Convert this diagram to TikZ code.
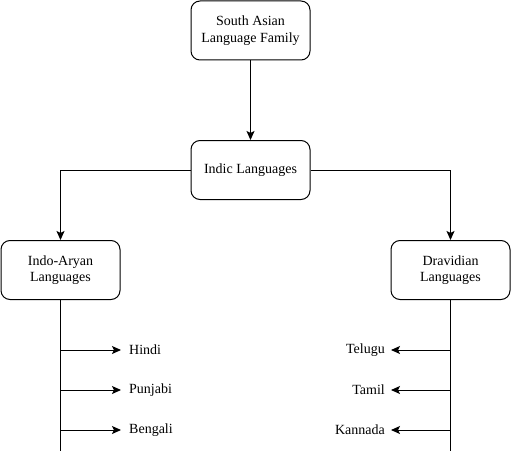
\documentclass[tikz,border=0pt]{standalone}
\usepackage{fontspec}
\setmainfont{Liberation Serif}
\usetikzlibrary{arrows.meta}
\begin{document}
\begin{tikzpicture}[x=1pt,y=-1pt,
  box/.style={draw, line width=1pt, rounded corners=9pt, minimum width=119pt, minimum height=59pt, align=center, inner sep=0pt, font=\fontsize{14}{16.5}\selectfont},
  leaf/.style={inner sep=0pt, font=\fontsize{14}{16.5}\selectfont},
  conn/.style={line width=1pt, -{Stealth[length=9pt,width=8pt,inset=2pt]}},
  plain/.style={line width=1pt}]
\useasboundingbox (0,0) rectangle (511,452);
\node[box] (root) at (250.5,30.5) {South Asian\\Language Family};
\node[box] (indic) at (250.5,170) {Indic Languages};
\node[box] (ia) at (60.5,270) {Indo-Aryan\\Languages};
\node[box] (dr) at (450.5,270) {Dravidian\\Languages};
\draw[conn] (root) -- (indic);
\draw[conn] (indic.west) -| (ia.north);
\draw[conn] (indic.east) -| (dr.north);
\coordinate (iaend) at (60.5,451);
\coordinate (drend) at (450.5,451);
\draw[plain] (ia.south) -- (iaend);
\draw[plain] (dr.south) -- (drend);
\node[leaf, anchor=west] (hindi) at (129,350) {Hindi};
\node[leaf, anchor=west] (punjabi) at (129,390) {Punjabi};
\node[leaf, anchor=west] (bengali) at (129,430) {Bengali};
\node[leaf, anchor=east] (telugu) at (385,350) {Telugu};
\node[leaf, anchor=east] (tamil) at (385,390) {Tamil};
\node[leaf, anchor=east] (kannada) at (385,430) {Kannada};
\coordinate (h0) at (60.5,350);
\coordinate (p0) at (60.5,390);
\coordinate (b0) at (60.5,430);
\coordinate (t0) at (450.5,350);
\coordinate (m0) at (450.5,390);
\coordinate (k0) at (450.5,430);
\draw[conn] (h0) -- ([xshift=-8pt]hindi.west);
\draw[conn] (p0) -- ([xshift=-8pt]punjabi.west);
\draw[conn] (b0) -- ([xshift=-8pt]bengali.west);
\draw[conn] (t0) -- ([xshift=6pt]telugu.east);
\draw[conn] (m0) -- ([xshift=6pt]tamil.east);
\draw[conn] (k0) -- ([xshift=6pt]kannada.east);
\end{tikzpicture}
\end{document}
